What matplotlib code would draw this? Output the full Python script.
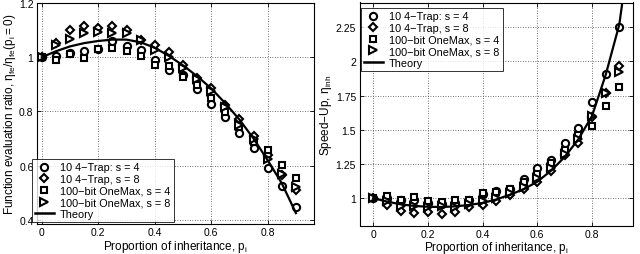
import matplotlib
matplotlib.use("Agg")
import matplotlib.pyplot as plt
from matplotlib.lines import Line2D

plt.rcParams['font.family'] = ['Liberation Sans', 'DejaVu Sans']
plt.rcParams['mathtext.default'] = 'regular'

p_i = [0, 0.05, 0.1, 0.15, 0.2, 0.25, 0.3, 0.35, 0.4, 0.45,
       0.5, 0.55, 0.6, 0.65, 0.7, 0.75, 0.8, 0.85, 0.9]

labels = ["10 4\u2212Trap: s = 4", "10 4\u2212Trap, s = 8",
          "100\u2212bit OneMax, s = 4", "100\u2212bit OneMax, s = 8", "Theory"]

# Left: function evaluation ratio
fe_trap4 = [1.0, 1.005, 1.015, 1.022, 1.03, 1.06, 1.04, 1.026, 0.99, 0.952,
            0.933, 0.882, 0.827, 0.778, 0.72, 0.665, 0.59, 0.526, 0.448]
fe_trap8 = [1.0, 1.052, 1.10, 1.116, 1.107, 1.116, 1.10, 1.065, 1.046, 1.018,
            0.973, 0.924, 0.888, 0.823, 0.772, 0.709, 0.638, 0.565, 0.512]
fe_om4 = [1.0, 0.988, 1.013, 0.998, 1.03, 1.034, 1.022, 1.006, 0.971, 0.967,
          0.928, 0.896, 0.848, 0.799, 0.741, 0.687, 0.659, 0.601, 0.555]
fe_om8 = [1.0, 1.046, 1.067, 1.089, 1.092, 1.09, 1.089, 1.062, 1.028, 1.001,
          0.961, 0.918, 0.876, 0.818, 0.75, 0.699, 0.626, 0.571, 0.52]
fe_theory = [1.0, 1.022, 1.04, 1.052, 1.06, 1.065, 1.065, 1.055, 1.035, 1.005,
             0.97, 0.93, 0.885, 0.83, 0.77, 0.70, 0.62, 0.535, 0.425]

# Right: speed-up
su_trap4 = [1.0, 1.0, 0.985, 0.99, 0.965, 0.96, 0.965, 0.985, 1.03, 1.05,
            1.07, 1.14, 1.22, 1.28, 1.40, 1.51, 1.705, 1.91, 2.25]
su_trap8 = [1.0, 0.952, 0.903, 0.89, 0.896, 0.886, 0.896, 0.935, 0.952, 0.976,
            1.024, 1.065, 1.12, 1.20, 1.314, 1.40, 1.59, 1.77, 1.966]
su_om4 = [1.0, 1.012, 0.99, 1.005, 0.978, 0.973, 0.983, 0.99, 1.036, 1.048,
          1.065, 1.12, 1.18, 1.254, 1.35, 1.46, 1.53, 1.67, 1.816]
su_om8 = [1.0, 0.976, 0.944, 0.94, 0.935, 0.94, 0.935, 0.96, 0.976, 1.0,
          1.036, 1.085, 1.145, 1.217, 1.326, 1.435, 1.60, 1.765, 1.925]
su_theory_x = p_i + [0.95]
su_theory = [1.0, 0.975, 0.955, 0.943, 0.937, 0.935, 0.94, 0.95, 0.965, 0.99,
             1.025, 1.065, 1.12, 1.20, 1.30, 1.43, 1.60, 1.90, 2.27, 3.0]

markers = ['o', 'D', 's', '>']
msizes = [5.2, 4.2, 4.2, 5.2]
FS = 7.5
LFS = 8.5

fig = plt.figure(figsize=(6.4, 2.55), dpi=100)
W, H = 640.0, 255.0
axL = fig.add_axes([37 / W, 1 - 225 / H, 277 / W, 221 / H])
axR = fig.add_axes([359.5 / W, 1 - 226.5 / H, 273.5 / W, 223 / H])


def style(ax):
    ax.grid(True, linestyle=(0, (1, 2)), color='#444444', linewidth=0.6)
    ax.tick_params(direction='in', top=True, right=True, labelsize=FS,
                   length=3, width=0.6, pad=2.5)
    for s in ax.spines.values():
        s.set_linewidth(0.8)
    ax.set_xticks([0, 0.2, 0.4, 0.6, 0.8])
    ax.set_xticklabels(['0', '0.2', '0.4', '0.6', '0.8'])
    ax.set_xlabel('Proportion of inheritance, p$_i$', fontsize=LFS, labelpad=0.3)


def draw(ax, series, tx, ty):
    handles = []
    for vals, m, ms in zip(series, markers, msizes):
        ax.plot(p_i, vals, linestyle='none', marker=m, markersize=ms,
                markerfacecolor='white', markeredgecolor='black',
                markeredgewidth=1.5, zorder=3)
        handles.append(Line2D([], [], linestyle='none', marker=m, markersize=ms,
                              markerfacecolor='white', markeredgecolor='black',
                              markeredgewidth=1.5))
    ax.plot(tx, ty, color='black', linewidth=1.6, zorder=4)
    handles.append(Line2D([], [], color='black', linewidth=1.8))
    return handles


hL = draw(axL, [fe_trap4, fe_trap8, fe_om4, fe_om8], p_i, fe_theory)
style(axL)
axL.set_xlim(-0.017, 0.964)
axL.set_ylim(0.385, 1.2)
axL.set_yticks([0.4, 0.6, 0.8, 1.0, 1.2])
axL.set_yticklabels(['0.4', '0.6', '0.8', '1', '1.2'])
axL.set_ylabel('Function evaluation ratio, $\\eta_{fe}/\\eta_{fe}(p_i = 0)$',
               fontsize=LFS, labelpad=1)
legL = axL.legend(hL, labels, loc='lower left', bbox_to_anchor=(-0.018, 0.008),
                  fontsize=FS + 0.3, frameon=True, fancybox=False, edgecolor='black',
                  borderpad=0.3, labelspacing=0.15, handlelength=1.7,
                  handletextpad=0.6, borderaxespad=0.0)
legL.get_frame().set_linewidth(0.7)

hR = draw(axR, [su_trap4, su_trap8, su_om4, su_om8], su_theory_x, su_theory)
style(axR)
axR.set_xlim(-0.05, 0.95)
axR.set_ylim(0.8, 2.43)
axR.set_yticks([1, 1.25, 1.5, 1.75, 2, 2.25])
axR.set_yticklabels(['1', '1.25', '1.5', '1.75', '2', '2.25'])
axR.set_ylabel('Speed\u2212Up, $\\eta_{inh}$', fontsize=LFS, labelpad=1)
legR = axR.legend(hR, labels, loc='upper left', bbox_to_anchor=(0.005, 0.975),
                  fontsize=FS + 0.3, frameon=True, fancybox=False, edgecolor='black',
                  borderpad=0.3, labelspacing=0.15, handlelength=1.7,
                  handletextpad=0.6, borderaxespad=0.0)
legR.get_frame().set_linewidth(0.7)

fig.savefig('out.png', dpi=100)
